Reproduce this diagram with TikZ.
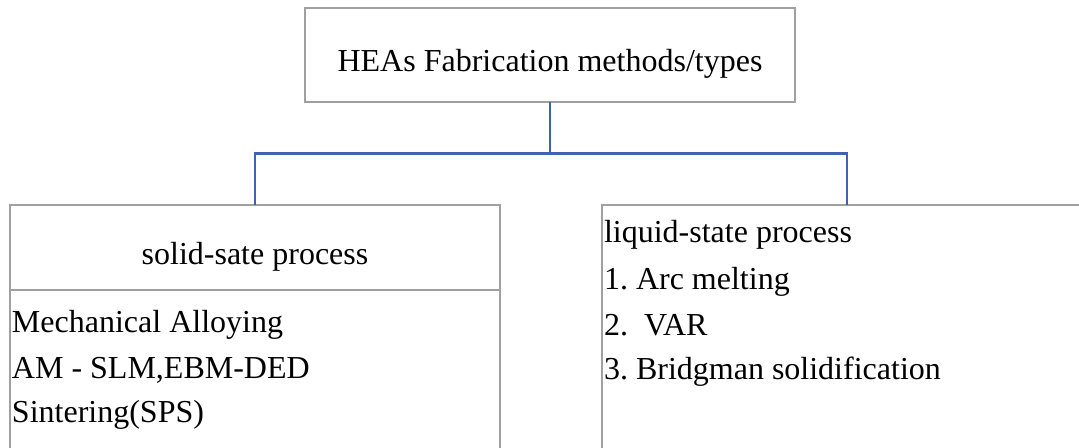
\documentclass[tikz,border=0pt]{standalone}
\usepackage{fontspec}
\setmainfont{Liberation Serif}
\frenchspacing
\definecolor{boxgray}{HTML}{A0A0A0}
\definecolor{linkblue}{HTML}{3F63AC}
\begin{document}
\begin{tikzpicture}[x=0.75pt,y=-0.75pt,
  box/.style={draw=boxgray,line width=1.1pt,fill=none,inner sep=0pt,outer sep=0pt,rectangle},
  link/.style={draw=linkblue,line width=1.6pt},
  txt/.style={inner sep=0pt,outer sep=0pt,font=\fontsize{24pt}{28pt}\selectfont}]
\useasboundingbox (0,0) rectangle (1079,448);
\clip (0,0) rectangle (1079,448);
\fill[white] (0,0) rectangle (1079,448);
% boxes
\node[box,minimum width=367.5pt,minimum height=70.5pt] (top) at (550,55) {};
\node[box,minimum width=367.5pt,minimum height=63.75pt] (solidhead) at (255,247.5) {};
\node[box,minimum width=367.5pt,minimum height=135pt] (solidbody) at (255,380) {};
\node[box,minimum width=367.5pt,minimum height=198.75pt] (liquid) at (847,337.5) {};
% connectors
\coordinate (fork) at (550,153.5);
\draw[link] (top.south) -- (fork);
\draw[link] (fork) -| (solidhead.north);
\draw[link] (fork) -| (liquid.north);
% texts
\node[txt,anchor=base] (toptxt) at (550,72) {HEAs Fabrication methods/types};
\node[txt,anchor=base] (solidtxt) at (255,265) {solid-sate process};
\node[txt,anchor=base west] (s1) at (12,333) {Mechanical Alloying};
\node[txt,anchor=base west] (s2) at (12,379) {AM - SLM,EBM-DED};
\node[txt,anchor=base west] (s3) at (12,423) {Sintering(SPS)};
\node[txt,anchor=base west] (l0) at (604,243) {liquid-state process};
\node[txt,anchor=base west] (l1) at (604,290) {1. Arc melting};
\node[txt,anchor=base west] (l2) at (604,336) {2.\ \ VAR};
\node[txt,anchor=base west] (l3) at (604,380) {3. Bridgman solidification};
\end{tikzpicture}
\end{document}
